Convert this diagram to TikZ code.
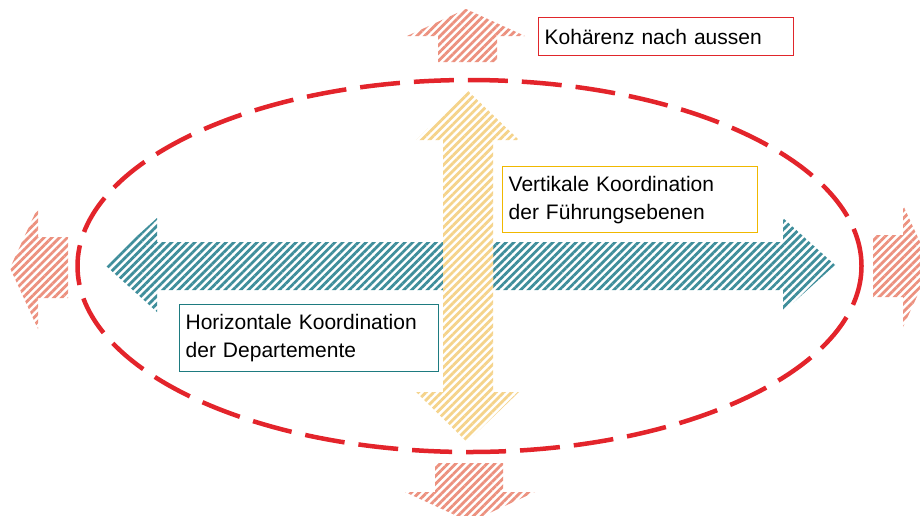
\documentclass[tikz,border=0pt]{standalone}
\usepackage{fontspec}
\setmainfont{Liberation Sans}
\usetikzlibrary{patterns.meta}
\definecolor{ellred}{HTML}{E3242B}
\definecolor{salmon}{HTML}{EC917F}
\definecolor{tealh}{HTML}{3F8E9B}
\definecolor{yelh}{HTML}{F5D38A}
\definecolor{tealb}{HTML}{1E7B80}
\definecolor{yelb}{HTML}{F0B800}
\definecolor{redb}{HTML}{E0262B}
\tikzset{
  hatch/.style={pattern={Lines[angle=45,distance=5.5pt,line width=2.8pt]}, pattern color=#1},
  label box/.style={draw=#1, line width=1.3pt, inner xsep=6pt, inner ysep=0pt, align=left,
    font=\fontsize{21}{28}\selectfont, anchor=north west},
}
\begin{document}
\begin{tikzpicture}[x=1pt,y=-1pt]
\useasboundingbox (0,0) rectangle (920,515);
\clip (0,0) rectangle (920,515);
% outer red arrows
\path[hatch=salmon] (466,9) -- (525,36) -- (497,36) -- (497,62) -- (438,62) -- (438,36) -- (407,36) -- cycle;
\path[hatch=salmon] (470,522) -- (535,492) -- (503,492) -- (503,463) -- (435,463) -- (435,492) -- (405,492) -- cycle;
\path[hatch=salmon] (10,268) -- (38,207) -- (38,237) -- (68,237) -- (68,298) -- (38,298) -- (38,329) -- cycle;
\path[hatch=salmon] (931,266) -- (903,205) -- (903,235) -- (873,235) -- (873,297) -- (903,297) -- (903,327) -- cycle;
% horizontal teal arrow
\path[hatch=tealh] (105,265) -- (157,218) -- (157,242) -- (783,242) -- (783,218) -- (835,265) -- (783,312) -- (783,290) -- (157,290) -- (157,312) -- cycle;
% vertical yellow arrow (opaque over the teal one)
\path[fill=white, postaction={hatch=yelh}] (467,90) -- (519,140) -- (493,140) -- (493,392) -- (519,392) -- (467,442) -- (416,392) -- (443,392) -- (443,140) -- (416,140) -- cycle;
% dashed ellipse
\draw[ellred, line width=4.5pt, dash pattern=on 40pt off 14pt] (469.5,266) ellipse [x radius=392, y radius=186];
% labels
\node[label box=redb, text width=243pt, minimum height=38pt] (koh) at (538,17) {Kohärenz nach aussen};
\node[label box=yelb, text width=243pt, minimum height=66pt] (vert) at (502,166) {Vertikale Koordination\\der Führungsebenen};
\node[label box=tealb, text width=247pt, minimum height=67pt, fill=white] (hor) at (179,304) {Horizontale Koordination\\der Departemente};
\end{tikzpicture}
\end{document}
